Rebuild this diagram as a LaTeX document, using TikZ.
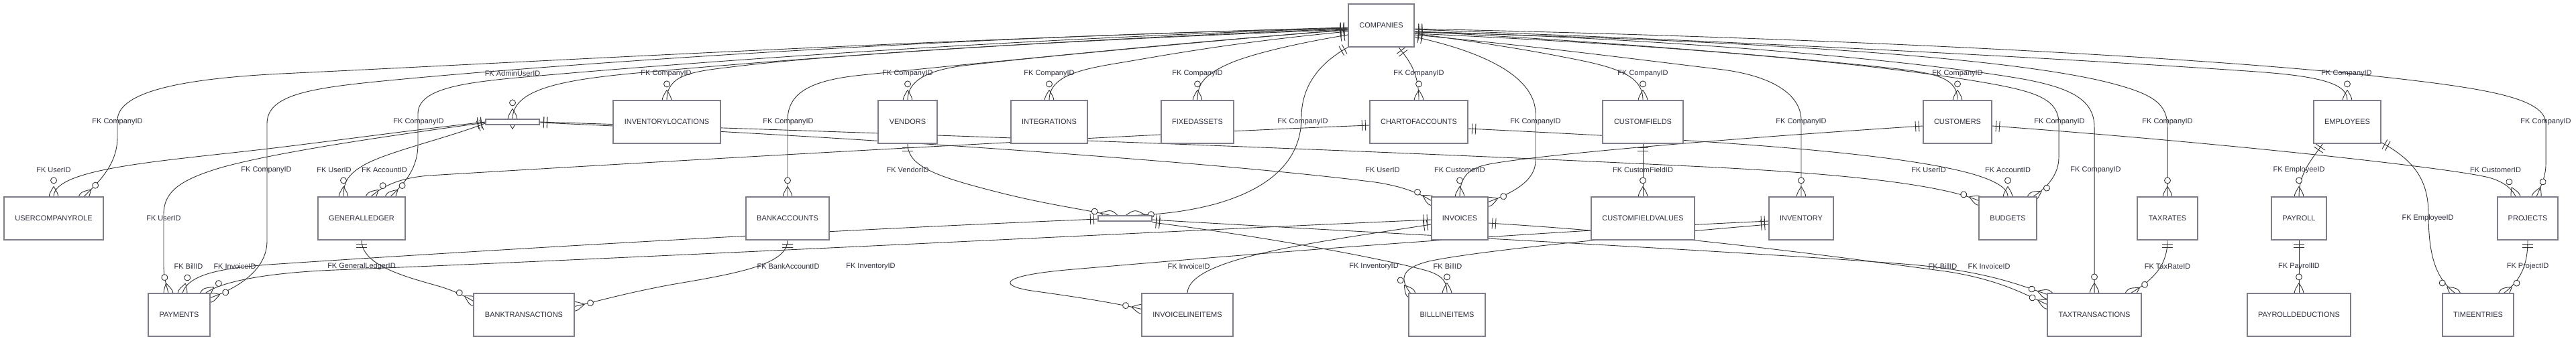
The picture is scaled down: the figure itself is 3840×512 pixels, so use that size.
\documentclass[tikz,border=0pt]{standalone}
\usepackage{fontspec}
\setmainfont{Liberation Sans}
\usetikzlibrary{decorations.markings,calc}
\definecolor{linec}{RGB}{51,51,51}
\definecolor{boxc}{RGB}{125,125,140}
\definecolor{txtc}{RGB}{45,45,65}
\pgfdeclarelayer{bg}
\pgfdeclarelayer{edges}
\pgfsetlayers{bg,edges,main}
\tikzset{
  ent/.style={draw=boxc, fill=white, line width=0.29pt, minimum height=16pt, inner sep=0pt, text=txtc, font=\fontsize{2.75}{3.25}\selectfont},
  w/.style={minimum width=#1*0.25pt},
  flatbox/.style={draw=boxc, fill=white, line width=0.29pt, minimum height=2pt, inner sep=0pt},
  lbl/.style={text=txtc, font=\fontsize{2.75}{3.25}\selectfont, inner sep=0pt},
  rel/.style={draw=linec, line width=0.225pt, postaction={decorate, decoration={markings,
     mark=at position 0 with {\draw[linec, line width=0.225pt] (6,-8)--(6,8) (11,-8)--(11,8);},
     mark=at position -0.005pt with {\draw[linec, line width=0.225pt] (-15,0) .. controls (0,9) .. (15,0) .. controls (0,-9) .. (-15,0); \draw[linec, fill=white, line width=0.225pt] (-24,0) circle (4.5);}}}}
}
\begin{document}
\begin{tikzpicture}[x=0.25pt,y=-0.25pt]
\begin{pgfonlayer}{bg}
\fill[white] (0,0) rectangle (3840,512);
\end{pgfonlayer}
\useasboundingbox (0,0) rectangle (3840,512);
% entities
\node[ent, w=98] (companies) at (2059,38) {COMPANIES};
\node[flatbox, w=80] (users) at (764,182) {};
\node[ent, w=160] (inventorylocations) at (994,182) {INVENTORYLOCATIONS};
\node[ent, w=88] (vendors) at (1353,182) {VENDORS};
\node[ent, w=114] (integrations) at (1564,182) {INTEGRATIONS};
\node[ent, w=108] (fixedassets) at (1785,182) {FIXEDASSETS};
\node[ent, w=146] (chartofaccounts) at (2115,182) {CHARTOFACCOUNTS};
\node[ent, w=120] (customfields) at (2449,182) {CUSTOMFIELDS};
\node[ent, w=102] (customers) at (2918,182) {CUSTOMERS};
\node[ent, w=100] (employees) at (3499,182) {EMPLOYEES};
\node[ent, w=148] (usercompanyrole) at (80,326) {USERCOMPANYROLE};
\node[ent, w=130] (generalledger) at (539,326) {GENERALLEDGER};
\node[ent, w=124] (bankaccounts) at (1174,326) {BANKACCOUNTS};
\node[flatbox, w=80] (bills) at (1677,326) {};
\node[ent, w=84] (invoices) at (2176,326) {INVOICES};
\node[ent, w=154] (customfieldvalues) at (2449,326) {CUSTOMFIELDVALUES};
\node[ent, w=96] (inventory) at (2685,326) {INVENTORY};
\node[ent, w=86] (budgets) at (2993,326) {BUDGETS};
\node[ent, w=90] (taxrates) at (3231,326) {TAXRATES};
\node[ent, w=82] (payroll) at (3427,326) {PAYROLL};
\node[ent, w=90] (projects) at (3768,326) {PROJECTS};
\node[ent, w=92] (payments) at (267,470) {PAYMENTS};
\node[ent, w=150] (banktransactions) at (781,470) {BANKTRANSACTIONS};
\node[ent, w=136] (invoicelineitems) at (1770,470) {INVOICELINEITEMS};
\node[ent, w=114] (billlineitems) at (2157,470) {BILLLINEITEMS};
\node[ent, w=140] (taxtransactions) at (3122,470) {TAXTRANSACTIONS};
\node[ent, w=154] (payrolldeductions) at (3427,470) {PAYROLLDEDUCTIONS};
\node[ent, w=106] (timeentries) at (3694,470) {TIMEENTRIES};
% connectors
\begin{pgfonlayer}{edges}
% COMPANIES left fan
\draw[rel] ($(companies.west)+(0,5)$) .. controls (1500,62) and (1100,95) .. (960,108) .. controls (850,118) and (764,130) .. (users.north);
\draw[rel] ($(companies.west)+(0,6)$) .. controls (1600,60) and (1250,80) .. (1090,100) .. controls (1030,107) and (994,112) .. (inventorylocations.north);
\draw[rel] ($(companies.west)+(0,7)$) .. controls (1800,60) and (1550,85) .. (1445,97) .. controls (1400,102) and (1353,113) .. (vendors.north);
\draw[rel] ($(companies.west)+(0,9)$) .. controls (1850,62) and (1750,80) .. (1680,92) .. controls (1620,102) and (1564,110) .. (integrations.north);
\draw[rel] ($(companies.west)+(0,14)$) .. controls (1930,65) and (1860,82) .. (1830,96) .. controls (1795,112) and (1785,125) .. (fixedassets.north);
\draw[rel] ($(companies.south)+(26,0)$) .. controls (2098,88) and (2115,105) .. (chartofaccounts.north);
\draw[rel] ($(companies.west)+(0,3)$) .. controls (1400,58) and (800,92) .. (420,110) .. controls (280,117) and (175,135) .. (175,180) -- (175,205) .. controls (175,245) and (148,271) .. ($(usercompanyrole.north)+(45,0)$);
\draw[rel] ($(companies.west)+(0,4)$) .. controls (1500,58) and (1000,95) .. (760,117) .. controls (680,125) and (623,135) .. (623,170) -- (623,215) .. controls (623,250) and (605,272) .. ($(generalledger.north)+(43,0)$);
\draw[rel] ($(companies.west)+(0,4)$) .. controls (1400,55) and (800,98) .. (560,122) .. controls (450,133) and (398,145) .. (398,185) -- (398,360) .. controls (398,400) and (360,428) .. ($(payments.north east)+(0,7)$);
\draw[rel] ($(companies.west)+(0,6)$) .. controls (1700,70) and (1400,100) .. (1285,112) .. controls (1205,120) and (1174,140) .. (1174,180) -- (bankaccounts.north);
\draw[rel] (companies.south west) .. controls (1965,95) and (1940,130) .. (1940,175) .. controls (1940,235) and (1900,280) .. (1810,305) .. controls (1760,318) and (1720,320) .. ($(bills.north)+(15,0)$);
% COMPANIES right fan
\draw[rel] ($(companies.east)+(0,12)$) .. controls (2200,62) and (2280,75) .. (2330,85) .. controls (2410,100) and (2449,112) .. (customfields.north);
\draw[rel] ($(companies.east)+(0,9)$) .. controls (2400,62) and (2700,88) .. (2830,103) .. controls (2890,110) and (2918,118) .. (customers.north);
\draw[rel] ($(companies.east)+(0,6)$) .. controls (2700,66) and (3150,92) .. (3363,107) .. controls (3460,114) and (3499,125) .. (employees.north);
\draw[rel] ($(companies.east)+(0,5)$) .. controls (2800,58) and (3300,88) .. (3535,113) .. controls (3700,131) and (3795,145) .. (3795,185) -- (3795,245) .. controls (3795,262) and (3789,275) .. ($(projects.north)+(13,0)$);
\draw[rel] ($(companies.east)+(0,17)$) .. controls (2200,75) and (2289,110) .. (2289,170) -- (2289,240) .. controls (2289,270) and (2255,288) .. ($(invoices.north east)+(0,8)$);
\draw[rel] ($(companies.east)+(0,14)$) .. controls (2300,70) and (2450,90) .. (2560,103) .. controls (2640,112) and (2685,140) .. (2685,180) -- (inventory.north);
\draw[rel] ($(companies.east)+(0,12)$) .. controls (2500,68) and (2800,95) .. (2968,125) .. controls (3040,138) and (3069,150) .. (3069,185) -- (3069,235) .. controls (3069,260) and (3052,280) .. ($(budgets.north east)+(-6,0)$);
\draw[rel] ($(companies.east)+(0,10)$) .. controls (2600,60) and (3000,85) .. (3150,125) .. controls (3210,141) and (3231,155) .. (3231,190) -- (taxrates.north);
\draw[rel] ($(companies.east)+(0,9)$) .. controls (2500,58) and (2850,90) .. (3010,117) .. controls (3090,131) and (3122,150) .. (3122,190) -- (taxtransactions.north);
% other relations
\draw[rel] (vendors.south) .. controls (1353,250) and (1400,265) .. (1500,290) .. controls (1570,307) and (1625,314) .. ($(bills.north)+(-22,0)$);
\draw[rel] (users.west) .. controls (600,196) and (500,210) .. (408,221) .. controls (250,240) and (80,250) .. (usercompanyrole.north);
\draw[rel] ($(users.west)+(0,2)$) .. controls (670,205) and (580,226) .. (545,245) .. controls (520,259) and (512,270) .. ($(generalledger.north)+(-27,0)$);
\draw[rel] ($(users.west)+(0,1)$) .. controls (600,200) and (420,225) .. (330,250) .. controls (270,268) and (244,285) .. (244,320) -- (244,395) .. controls (244,415) and (248,425) .. ($(payments.north)+(-16,0)$);
\draw[rel] ($(users.east)+(0,1)$) .. controls (1200,200) and (1800,240) .. (2050,272) .. controls (2090,278) and (2115,288) .. ($(invoices.north west)+(0,6)$);
\draw[rel] (users.east) .. controls (1300,198) and (2000,222) .. (2560,250) .. controls (2750,260) and (2890,275) .. ($(budgets.north west)+(0,6)$);
\draw[rel] ($(chartofaccounts.west)+(0,5)$) .. controls (1700,200) and (1000,240) .. (640,262) .. controls (600,265) and (572,276) .. ($(generalledger.north)+(14,0)$);
\draw[rel] ($(chartofaccounts.east)+(0,10)$) .. controls (2600,212) and (2993,235) .. (budgets.north);
\draw[rel] ($(customers.west)+(0,6)$) .. controls (2600,205) and (2300,230) .. (2220,245) .. controls (2188,251) and (2176,265) .. (invoices.north);
\draw[rel] ($(customers.east)+(0,6)$) .. controls (3300,212) and (3650,250) .. (3710,265) .. controls (3732,271) and (3745,282) .. ($(projects.north)+(-18,0)$);
\draw[rel] (customfields.south) -- (customfieldvalues.north);
\draw[rel] ($(employees.south west)+(14,0)$) .. controls (3445,240) and (3427,258) .. (payroll.north);
\draw[rel] ($(employees.south east)+(0,-2)$) .. controls (3600,240) and (3620,270) .. (3620,320) .. controls (3620,390) and (3635,418) .. ($(timeentries.north west)+(19,0)$);
\draw[rel] (generalledger.south) .. controls (539,395) and (600,412) .. (650,426) .. controls (675,433) and (693,442) .. ($(banktransactions.north west)+(0,12)$);
\draw[rel] (bankaccounts.south) .. controls (1174,395) and (1100,408) .. (1000,425) .. controls (930,438) and (890,450) .. ($(banktransactions.north east)+(0,20)$);
\draw[rel] ($(bills.west)+(0,1)$) .. controls (1200,345) and (700,375) .. (400,395) .. controls (320,401) and (280,412) .. ($(payments.north)+(5,0)$);
\draw[rel] ($(invoices.west)+(0,2)$) .. controls (1800,342) and (1000,383) .. (500,403) .. controls (400,407) and (330,420) .. ($(payments.north east)+(-7,0)$);
\draw[rel] ($(invoices.west)+(0,9)$) .. controls (1960,362) and (1772,385) .. (invoicelineitems.north);
\draw[rel] ($(bills.east)+(0,6)$) .. controls (1900,355) and (2080,390) .. (2130,405) .. controls (2150,412) and (2157,420) .. (billlineitems.north);
\draw[rel] ($(bills.east)+(0,2)$) .. controls (2000,345) and (2600,375) .. (2850,395) .. controls (2960,405) and (3010,425) .. ($(taxtransactions.north west)+(0,2)$);
\draw[rel] ($(invoices.east)+(0,7)$) .. controls (2500,350) and (2750,385) .. (2900,405) .. controls (2980,417) and (3020,440) .. ($(taxtransactions.north west)+(0,17)$);
\draw[rel] ($(inventory.west)+(0,4)$) .. controls (2200,350) and (1800,385) .. (1600,402) .. controls (1480,412) and (1490,428) .. (1545,435) .. controls (1610,444) and (1660,452) .. ($(invoicelineitems.north west)+(0,24)$);
\draw[rel] ($(inventory.west)+(0,9)$) .. controls (2400,355) and (2200,375) .. (2130,390) .. controls (2090,400) and (2085,415) .. ($(billlineitems.north west)+(3,0)$);
\draw[rel] (taxrates.south) .. controls (3231,400) and (3205,420) .. ($(taxtransactions.north east)+(-16,0)$);
\draw[rel] (payroll.south) -- (payrolldeductions.north);
\draw[rel] (projects.south) .. controls (3768,400) and (3755,420) .. ($(timeentries.north east)+(-15,0)$);
\end{pgfonlayer}
% labels
\node[lbl] (l1) at (764,110) {FK AdminUserID};
\node[lbl] (l2) at (993,110) {FK CompanyID};
\node[lbl] (l3) at (1353,110) {FK CompanyID};
\node[lbl] (l4) at (1564,110) {FK CompanyID};
\node[lbl] (l5) at (1785,110) {FK CompanyID};
\node[lbl] (l6) at (2115,110) {FK CompanyID};
\node[lbl] (l7) at (2449,110) {FK CompanyID};
\node[lbl] (l8) at (2918,110) {FK CompanyID};
\node[lbl] (l9) at (3498,110) {FK CompanyID};
\node[lbl] (l10) at (175,182) {FK CompanyID};
\node[lbl] (l11) at (624,182) {FK CompanyID};
\node[lbl] (l12) at (1175,182) {FK CompanyID};
\node[lbl] (l13) at (1942,182) {FK CompanyID};
\node[lbl] (l14) at (2289,182) {FK CompanyID};
\node[lbl] (l15) at (2685,182) {FK CompanyID};
\node[lbl] (l16) at (3070,182) {FK CompanyID};
\node[lbl] (l17) at (3231,182) {FK CompanyID};
\node[lbl] (l18) at (3795,182) {FK CompanyID};
\node[lbl] (l19) at (80,254) {FK UserID};
\node[lbl] (l20) at (397,254) {FK CompanyID};
\node[lbl] (l21) at (498,254) {FK UserID};
\node[lbl] (l22) at (573,254) {FK AccountID};
\node[lbl] (l23) at (1353,254) {FK VendorID};
\node[lbl] (l24) at (2061,254) {FK UserID};
\node[lbl] (l25) at (2176,254) {FK CustomerID};
\node[lbl] (l26) at (2449,254) {FK CustomFieldID};
\node[lbl] (l27) at (2875,254) {FK UserID};
\node[lbl] (l28) at (2993,254) {FK AccountID};
\node[lbl] (l29) at (3124,254) {FK CompanyID};
\node[lbl] (l30) at (3427,254) {FK EmployeeID};
\node[lbl] (l31) at (3720,254) {FK CustomerID};
\node[lbl] (l32) at (244,326) {FK UserID};
\node[lbl] (l33) at (3619,326) {FK EmployeeID};
\node[lbl] (l34) at (281,398) {FK BillID};
\node[lbl] (l35) at (350,398) {FK InvoiceID};
\node[lbl] (l36) at (539,398) {FK GeneralLedgerID};
\node[lbl] (l37) at (1175,398) {FK BankAccountID};
\node[lbl] (l38) at (1298,398) {FK InventoryID};
\node[lbl] (l39) at (1772,398) {FK InvoiceID};
\node[lbl] (l40) at (2048,398) {FK InventoryID};
\node[lbl] (l41) at (2158,398) {FK BillID};
\node[lbl] (l42) at (2896,398) {FK BillID};
\node[lbl] (l43) at (2965,398) {FK InvoiceID};
\node[lbl] (l44) at (3231,398) {FK TaxRateID};
\node[lbl] (l45) at (3427,398) {FK PayrollID};
\node[lbl] (l46) at (3768,398) {FK ProjectID};
\end{tikzpicture}
\end{document}
